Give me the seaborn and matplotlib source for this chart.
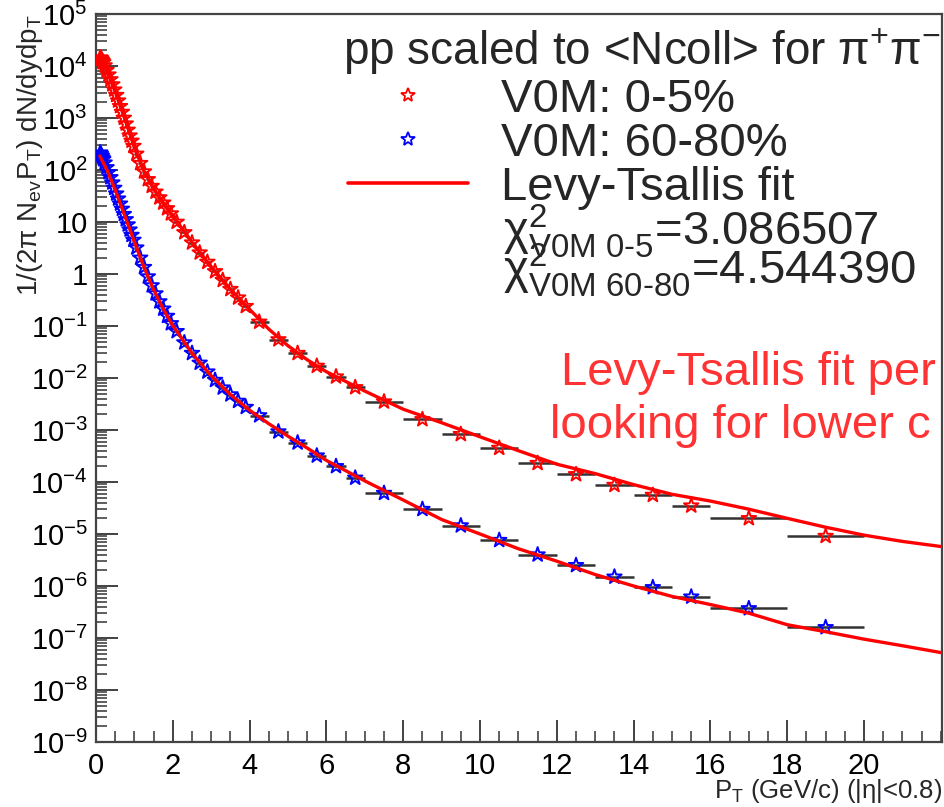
import numpy as np
import pandas as pd
import matplotlib
matplotlib.use("Agg")
import matplotlib.pyplot as plt
import seaborn as sns
from matplotlib.lines import Line2D
from matplotlib.ticker import FixedLocator, FixedFormatter, MultipleLocator, LogLocator, NullFormatter

# ---------------- data ----------------
bin_edges = [0.10, 0.12, 0.14, 0.16, 0.18, 0.20, 0.25, 0.30, 0.35, 0.40, 0.45, 0.50,
             0.55, 0.60, 0.65, 0.70, 0.75, 0.80, 0.85, 0.90, 0.95, 1.00,
             1.1, 1.2, 1.3, 1.4, 1.5, 1.6, 1.7, 1.8, 1.9, 2.0,
             2.2, 2.4, 2.6, 2.8, 3.0, 3.2, 3.4, 3.6, 3.8, 4.0,
             4.5, 5.0, 5.5, 6.0, 6.5, 7.0,
             8, 9, 10, 11, 12, 13, 14, 15, 16, 18, 20]

yield_0_5 = [1.45e4, 1.4e4, 1.32e4, 1.25e4, 1.17e4, 1.02e4, 8.3e3, 6.8e3, 5.5e3, 4.4e3, 3.5e3,
             2.75e3, 2.15e3, 1.68e3, 1.3e3, 1.0e3, 776, 589, 457, 363, 288,
             204, 135, 93, 66, 49, 38, 29.5, 23.4, 18.2, 14.5,
             10.0, 6.3, 4.0, 2.57, 1.70, 1.12, 0.76, 0.51, 0.35, 0.24,
             0.12, 0.055, 0.030, 0.017, 0.0106, 0.0066,
             0.0035, 0.0016, 8.3e-4, 4.5e-4, 2.3e-4, 1.4e-4, 8.7e-5, 5.6e-5, 3.5e-5,
             2.0e-5, 9.1e-6]

yield_60_80 = [215, 200, 186, 172, 160, 138, 112, 90, 72, 57, 45,
               35, 28, 22.4, 17.8, 14.1, 11.2, 8.9, 7.1, 5.6, 4.5,
               3.2, 2.04, 1.35, 0.89, 0.60, 0.42, 0.295, 0.214, 0.155, 0.112,
               0.079, 0.048, 0.030, 0.0195, 0.0132, 0.0091, 0.0065, 0.0048, 0.0036, 0.00275,
               0.0019, 9.3e-4, 5.7e-4, 3.2e-4, 2.0e-4, 1.2e-4,
               6.1e-5, 3.0e-5, 1.45e-5, 7.6e-6, 4.0e-6, 2.5e-6, 1.5e-6, 9.4e-7, 6.2e-7,
               3.7e-7, 1.6e-7]

fit_pt_0_5 = [0.15, 0.3, 0.5, 0.75, 1.0, 1.25, 1.5, 1.75, 2.0, 2.5, 3.0, 3.5, 4.0, 4.5, 5.0,
              5.5, 6.0, 7, 8, 9, 10, 11, 12, 13, 14, 15, 16, 17, 18, 19, 20, 21, 22]
fit_0_5 = [1.3e4, 7.5e3, 3.2e3, 955, 275, 95, 43.7, 23.4, 13.2, 4.1, 1.38, 0.51, 0.209,
           0.087, 0.0417, 0.0224, 0.0132, 0.0056, 0.00251, 0.00138, 7.4e-4, 4.0e-4, 2.2e-4,
           1.45e-4, 8.9e-5, 5.8e-5, 4.3e-5, 3.0e-5, 2.0e-5, 1.35e-5, 9.5e-6, 7.2e-6, 5.75e-6]

fit_pt_60_80 = [0.1, 0.3, 0.5, 0.75, 1.0, 1.25, 1.5, 1.75, 2.0, 2.5, 3.0, 3.5, 4.0, 4.5, 5.0,
                5.5, 6.0, 7, 8, 9, 10, 11, 12, 13, 14, 15, 16, 17, 18, 19, 20, 21, 22]
fit_60_80 = [186, 95, 41.7, 13.2, 4.17, 1.35, 0.50, 0.214, 0.102, 0.030, 0.011, 0.0048, 0.0024,
             0.00132, 7.6e-4, 4.5e-4, 2.6e-4, 1.05e-4, 4.5e-5, 1.9e-5, 1.0e-5, 5.2e-6, 3.0e-6,
             1.66e-6, 1.0e-6, 6.3e-7, 4.4e-7, 3.0e-7, 1.8e-7, 1.32e-7, 9.5e-8, 7.1e-8, 5.25e-8]

x_tick_values = [0, 2, 4, 6, 8, 10, 12, 14, 16, 18, 20]
x_tick_labels = ["0", "2", "4", "6", "8", "10", "12", "14", "16", "18", "20"]
y_tick_values = [1e-9, 1e-8, 1e-7, 1e-6, 1e-5, 1e-4, 1e-3, 1e-2, 1e-1, 1, 10, 1e2, 1e3, 1e4, 1e5]
y_tick_labels = [r"$10^{-9}$", r"$10^{-8}$", r"$10^{-7}$", r"$10^{-6}$", r"$10^{-5}$",
                 r"$10^{-4}$", r"$10^{-3}$", r"$10^{-2}$", r"$10^{-1}$", "1", "10",
                 r"$10^{2}$", r"$10^{3}$", r"$10^{4}$", r"$10^{5}$"]

legend_title = r"pp scaled to <Ncoll> for $\mathrm{\pi}^{+}\mathrm{\pi}^{-}$"
series_labels = ["V0M: 0-5%", "V0M: 60-80%", "Levy-Tsallis fit"]
chi2_texts = [r"$\mathrm{\chi}^{2}_{\mathrm{V0M\ 0\text{-}5}}$=3.086507",
              r"$\mathrm{\chi}^{2}_{\mathrm{V0M\ 60\text{-}80}}$=4.544390"]
note_lines = ["Levy-Tsallis fit per", "looking for lower c"]

# ---------------- style ----------------
sns.set_style("white")
plt.rcParams["font.family"] = ["Liberation Sans", "DejaVu Sans"]
plt.rcParams["mathtext.fontset"] = "custom"
plt.rcParams["mathtext.rm"] = "Liberation Sans"
plt.rcParams["mathtext.it"] = "Liberation Sans:italic"
plt.rcParams["mathtext.bf"] = "Liberation Sans:bold"

W, H = 944, 807
fig = plt.figure(figsize=(W / 100, H / 100), dpi=100)
ax = fig.add_axes([96 / W, 1 - 742 / H, (942 - 96) / W, (742 - 14) / H])
ax.set_yscale("log")

edges = np.array(bin_edges)
centers = (edges[:-1] + edges[1:]) / 2
halfw = (edges[1:] - edges[:-1]) / 2

df = pd.DataFrame({"pt": centers, "y05": yield_0_5, "y6080": yield_60_80})
fit_a = pd.DataFrame({"pt": fit_pt_0_5, "y": fit_0_5})
fit_b = pd.DataFrame({"pt": fit_pt_60_80, "y": fit_60_80})

# horizontal bin-width bars
for col in ["y05", "y6080"]:
    ax.errorbar(df["pt"], df[col], xerr=halfw, fmt="none", ecolor="#333333",
                elinewidth=1.8, capsize=0, zorder=2)

sns.scatterplot(data=df, x="pt", y="y05", marker="*", s=120, facecolors="none",
                edgecolor="#ff0000", linewidth=1.4, ax=ax, zorder=3)
sns.scatterplot(data=df, x="pt", y="y6080", marker="*", s=120, facecolors="none",
                edgecolor="#0000ff", linewidth=1.4, ax=ax, zorder=3)
sns.lineplot(data=fit_a, x="pt", y="y", color="#ff0000", lw=2.4, ax=ax, zorder=4)
sns.lineplot(data=fit_b, x="pt", y="y", color="#ff0000", lw=2.4, ax=ax, zorder=4)

ax.set_xlim(0, 22.03)
ax.set_ylim(1e-9, 1e5)
ax.xaxis.set_major_locator(FixedLocator(x_tick_values))
ax.xaxis.set_major_formatter(FixedFormatter(x_tick_labels))
ax.xaxis.set_minor_locator(MultipleLocator(0.5))
ax.yaxis.set_major_locator(FixedLocator(y_tick_values))
ax.yaxis.set_major_formatter(FixedFormatter(y_tick_labels))
ax.yaxis.set_minor_locator(LogLocator(base=10, subs=np.arange(2, 10), numticks=200))
ax.yaxis.set_minor_formatter(NullFormatter())

ax.tick_params(axis="both", which="both", bottom=True, left=True, top=False, right=False)
ax.tick_params(axis="both", which="major", direction="in", length=16, width=1.3,
               labelsize=21, colors="#333333", labelcolor="black")
ax.tick_params(axis="both", which="minor", direction="in", length=8, width=1.1,
               colors="#333333")
ax.tick_params(axis="x", which="major", pad=7)
ax.tick_params(axis="y", which="major", pad=6)
for sp in ax.spines.values():
    sp.set_visible(True)
    sp.set_linewidth(1.6)
    sp.set_color("#444444")

ax.set_xlabel(r"P$_{\mathrm{T}}$ (GeV/c) (|$\mathrm{\eta}$|<0.8)", fontsize=18.5, loc="right")
ax.xaxis.set_label_coords(1.0, -0.0485)
ax.set_ylabel(r"1/(2$\mathrm{\pi}$ N$_{\mathrm{ev}}$P$_{\mathrm{T}}$) dN/dydp$_{\mathrm{T}}$",
              fontsize=20, loc="top")
ax.yaxis.set_label_coords(-0.06, 1.0)

# legend
handles = [Line2D([], [], marker="*", ls="none", mfc="none", mec="#ff0000", ms=10, mew=1.3),
           Line2D([], [], marker="*", ls="none", mfc="none", mec="#0000ff", ms=10, mew=1.3),
           Line2D([], [], color="#ff0000", lw=2.6)]
leg = ax.legend(handles, series_labels, loc="upper left",
                bbox_to_anchor=(348 / W, 1 - 78 / H), bbox_transform=fig.transFigure,
                frameon=False, fontsize=34, handlelength=2.55, handletextpad=0.7,
                labelspacing=0.0, borderpad=0, borderaxespad=0)
leg.set_zorder(6)

fig.text(343 / W, 1 - 65 / H, legend_title, fontsize=33, ha="left", va="baseline")
fig.text(503 / W, 1 - 245 / H, chi2_texts[0], fontsize=34, ha="left", va="baseline")
fig.text(503 / W, 1 - 284 / H, chi2_texts[1], fontsize=34, ha="left", va="baseline")

# red overlaid note
ax.text(561 / W, 1 - 385 / H, note_lines[0], transform=fig.transFigure, fontsize=34,
        color="#ff3333", ha="left", va="baseline", clip_on=True, zorder=7)
ax.text(550 / W, 1 - 438 / H, note_lines[1], transform=fig.transFigure, fontsize=34,
        color="#ff3333", ha="left", va="baseline", clip_on=True, zorder=7)

fig.savefig("out.png", dpi=100)
